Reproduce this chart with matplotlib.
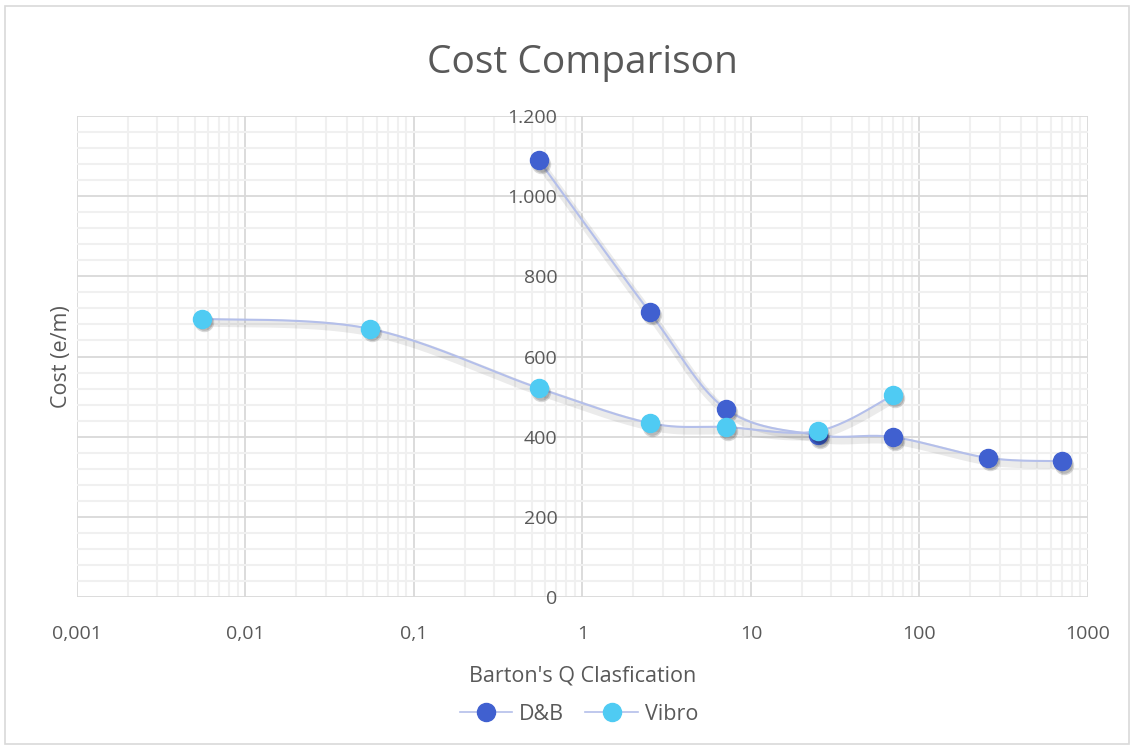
import numpy as np
import matplotlib.pyplot as plt
import matplotlib.patheffects as pe
import matplotlib.transforms as mtransforms
from matplotlib.ticker import FixedLocator, LogLocator, MultipleLocator
from matplotlib.lines import Line2D
from matplotlib.patches import Rectangle

# values
db_q = [0.55, 2.5, 7.1, 25, 70, 255, 700]
db_cost = [1090, 711, 469, 404, 399, 347, 339]

vibro_q = [0.0055, 0.055, 0.55, 2.5, 7.1, 25, 70]
vibro_cost = [694, 669, 521, 434, 424, 414, 504]

x_ticks = [0.001, 0.01, 0.1, 1, 10, 100, 1000]
x_labels = ["0,001", "0,01", "0,1", "1", "10", "100", "1000"]
y_ticks = [0, 200, 400, 600, 800, 1000, 1200]
y_labels = ["0", "200", "400", "600", "800", "1.000", "1.200"]

TXT = "#595959"
LINE_C = "#b4bfea"
DB_C = "#4060d0"
VIBRO_C = "#4fcbf3"

plt.rcParams['font.family'] = ['Open Sans', 'DejaVu Sans']


# excel-like smoothed line (bezier through points, in screen-ish space)
def smooth(xs, ys, n=40):
    u = np.log10(xs) * 168.5
    v = np.array(ys) * 0.4008
    pts = np.column_stack([u, v])
    pts = np.vstack([pts[0], pts, pts[-1]])
    out = []
    for i in range(1, len(pts) - 2):
        p0, p1, p2, p3 = pts[i - 1], pts[i], pts[i + 1], pts[i + 2]
        c1 = p1 + (p2 - p0) / 6
        c2 = p2 - (p3 - p1) / 6
        t = np.linspace(0, 1, n)[:, None]
        seg = (1 - t) ** 3 * p1 + 3 * (1 - t) ** 2 * t * c1 + 3 * (1 - t) * t ** 2 * c2 + t ** 3 * p2
        out.append(seg)
    out = np.vstack(out)
    return 10 ** (out[:, 0] / 168.5), out[:, 1] / 0.4008


fig = plt.figure(figsize=(11.34, 7.47), dpi=100)
fig.patches.append(Rectangle((0.004, 0.004), 0.992, 0.988, transform=fig.transFigure,
                             fill=False, edgecolor="#d9d9d9", linewidth=1.2))
ax = fig.add_axes([0.0679, 0.2008, 0.8915, 0.6439])

ax.set_xscale('log')
ax.set_xlim(0.001, 1000)
ax.set_ylim(0, 1200)

shadow = [pe.SimpleLineShadow(offset=(1.0, -2.5), shadow_color='#000000', alpha=0.08, linewidth=6),
          pe.Normal()]

for q, c in [(db_q, db_cost), (vibro_q, vibro_cost)]:
    sx, sy = smooth(q, c)
    ax.plot(sx, sy, color=LINE_C, linewidth=1.5, zorder=3, path_effects=shadow)

# soft marker shadows, shifted a little down-right
off = ax.transData + mtransforms.ScaledTranslation(1.5 / 72, -2.5 / 72, fig.dpi_scale_trans)
for q, c, z in [(db_q, db_cost, 4), (vibro_q, vibro_cost, 6)]:
    ax.plot(q, c, linestyle='none', marker='o', markersize=14, color='#000000', alpha=0.15,
            markeredgewidth=0, transform=off, zorder=z)
    ax.plot(q, c, linestyle='none', marker='o', markersize=12, color='#000000', alpha=0.15,
            markeredgewidth=0, transform=off, zorder=z)

ax.plot(db_q, db_cost, linestyle='none', marker='o', markersize=13, color=DB_C,
        markeredgecolor=DB_C, zorder=5)
ax.plot(vibro_q, vibro_cost, linestyle='none', marker='o', markersize=13, color=VIBRO_C,
        markeredgecolor=VIBRO_C, zorder=7)

# grid
ax.xaxis.set_major_locator(FixedLocator(x_ticks))
ax.xaxis.set_minor_locator(LogLocator(base=10, subs=np.arange(2, 10), numticks=20))
ax.yaxis.set_major_locator(FixedLocator(y_ticks))
ax.yaxis.set_minor_locator(MultipleLocator(40))
ax.set_xticklabels(x_labels)
ax.set_yticklabels(y_labels)
ax.grid(True, which='major', color='#d9d9d9', linewidth=1.3, zorder=0)
ax.grid(True, which='minor', color='#f0f0f0', linewidth=1.5, zorder=0)
ax.set_axisbelow(True)

for s in ax.spines.values():
    s.set_visible(False)
ax.spines['left'].set_position(('data', 1))

ax.tick_params(which='both', length=0)
ax.tick_params(axis='x', pad=20, labelsize=14, labelcolor=TXT)
ax.tick_params(axis='y', pad=18, labelsize=14, labelcolor=TXT)

ax.set_title("Cost Comparison", fontsize=28, color=TXT, pad=31)
ax.set_xlabel("Barton's Q Clasfication", fontsize=15.5, color=TXT, labelpad=16)
fig.text(0.054, 0.522, "Cost (e/m)", rotation=90, fontsize=15.5, color=TXT, ha='center', va='center')

handles = [Line2D([], [], color=LINE_C, linewidth=1.2, marker='o', markersize=13,
                  markerfacecolor=DB_C, markeredgecolor=DB_C),
           Line2D([], [], color=LINE_C, linewidth=1.2, marker='o', markersize=13,
                  markerfacecolor=VIBRO_C, markeredgecolor=VIBRO_C)]
fig.legend(handles, ["D&B", "Vibro"], loc='center', bbox_to_anchor=(0.5105, 0.044), ncol=2,
           frameon=False, fontsize=15.5, labelcolor=TXT, handlelength=2.45, columnspacing=1.0,
           handletextpad=0.3)

fig.savefig("out.png", dpi=100)
